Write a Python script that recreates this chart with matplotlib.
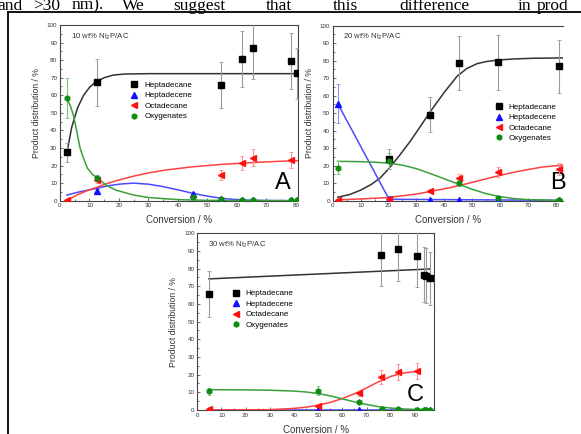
import numpy as np
import matplotlib.pyplot as plt
from matplotlib.lines import Line2D

plt.rcParams['font.family'] = ['Liberation Sans', 'DejaVu Sans']

# ---- Panel A : 10 wt% Ni2P/AC ----
a_hepta_x = [2.3, 12.4, 54.6, 61.8, 65.5, 78.2, 80.2]
a_hepta_y = [27.5, 67.4, 65.8, 80.5, 87.0, 79.5, 72.5]
a_hepta_e = [5.5, 13.5, 13.0, 16.0, 17.5, 16.0, 14.5]
a_ene_x = [12.4, 45.0, 54.6, 61.8, 65.5, 78.2, 80.2]
a_ene_y = [5.5, 4.0, 1.2, 0.4, 0.3, 0.2, 0.2]
a_ene_e = [1.0, 1.2, 0.5, 0.3, 0.2, 0.2, 0.2]
a_octa_x = [2.3, 12.4, 54.6, 61.8, 65.5, 78.2]
a_octa_y = [0.3, 11.5, 14.5, 21.5, 24.5, 23.2]
a_octa_e = [0.5, 1.5, 3.0, 4.0, 5.0, 4.5]
a_oxy_x = [2.3, 12.4, 45.0, 54.6, 61.8, 65.5, 78.2, 80.2]
a_oxy_y = [58.5, 13.0, 2.3, 1.2, 0.3, 0.3, 0.2, 0.2]
a_oxy_e = [11.5, 1.5, 1.5, 0.8, 0.3, 0.3, 0.2, 0.2]
# fitted curves
a_fit_hepta_x = [2.3, 4, 6, 8, 10, 12, 15, 18, 22, 30, 80.7]
a_fit_hepta_y = [27, 42, 53, 60, 64.5, 67.5, 70, 71.5, 72.1, 72.3, 72.3]
a_fit_ene_x = [2.3, 6, 10, 12.4, 16, 20, 25, 30, 35, 40, 45, 50, 55, 60, 65, 70, 80.7]
a_fit_ene_y = [3.2, 4.8, 6.2, 7, 8.4, 9.4, 10, 9.4, 8.0, 6.2, 4.2, 2.6, 1.3, 0.6, 0.25, 0.1, 0]
a_fit_octa_x = [2.3, 6, 10, 12.4, 16, 20, 25, 30, 36, 45, 55, 62, 70, 77, 80.7]
a_fit_octa_y = [0, 3.5, 6.2, 7.6, 9.8, 11.8, 14, 15.8, 17.5, 19.3, 20.7, 21.4, 22.1, 22.6, 22.8]
a_fit_oxy_x = [2.3, 3.5, 4.5, 5.5, 6.8, 8, 9.3, 11, 12.4, 14, 16, 19, 25, 30, 40, 50, 80.7]
a_fit_oxy_y = [58.5, 54, 49, 41, 30, 24, 18.5, 15, 13.3, 11, 8.5, 6, 3.2, 1.8, 0.6, 0.2, 0]

# ---- Panel B : 20 wt% Ni2P/AC ----
b_hepta_x = [20.2, 35.0, 45.1, 59.3, 81.0]
b_hepta_y = [23.8, 49.1, 78.5, 79.0, 76.8]
b_hepta_e = [5.5, 10.0, 15.5, 15.8, 15.2]
b_ene_x = [1.8, 20.2, 35.0, 45.1, 59.3, 81.0]
b_ene_y = [55.5, 1.0, 0.3, 0.3, 0.2, 0.2]
b_ene_e = [11.0, 0.5, 0.2, 0.2, 0.2, 0.2]
b_octa_x = [1.8, 20.2, 35.0, 45.1, 59.3, 81.0]
b_octa_y = [0.5, 1.2, 5.8, 13.0, 16.5, 18.2]
b_octa_e = [0.3, 0.5, 1.0, 2.5, 3.0, 3.5]
b_oxy_x = [1.8, 20.2, 45.1, 59.3, 81.0]
b_oxy_y = [18.8, 22.5, 10.2, 1.5, 0.4]
b_oxy_e = [3.8, 4.5, 2.0, 0.5, 0.3]
b_fit_hepta_x = [1.8, 6, 10, 14, 17, 20.2, 24, 27.8, 31, 35, 40, 44.5, 48, 51.7, 55, 59.3, 65, 72, 83]
b_fit_hepta_y = [2, 3.5, 6, 9.5, 13, 18.5, 26, 34, 41.5, 51, 62, 71, 75.5, 78.3, 79.5, 80.4, 81, 81.4, 81.6]
b_fit_ene_x = [1.8, 20.2, 83]
b_fit_ene_y = [55.5, 0.8, 0.2]
b_fit_octa_x = [1.8, 10, 20, 30, 35, 40, 45, 50, 55, 60, 65, 70, 75, 83]
b_fit_octa_y = [0.5, 1, 1.8, 3.8, 5.3, 6.8, 8.5, 10.5, 12.5, 14.5, 16.3, 17.8, 19.2, 20.5]
b_fit_oxy_x = [1.8, 10, 15, 20, 25, 30, 35, 40, 45, 50, 55, 60, 65, 70, 83]
b_fit_oxy_y = [22.5, 22.3, 22, 21.5, 20.3, 18.3, 15.5, 12.5, 9.5, 6.5, 4, 2.3, 1.2, 0.6, 0.1]

# ---- Panel C : 30 wt% Ni2P/AC ----
c_hepta_x = [4.8, 75.8, 83.1, 91.0, 93.8, 94.4, 96.2]
c_hepta_y = [65.5, 87.5, 91.0, 87.0, 76.5, 76.0, 74.5]
c_hepta_e = [13.0, 17.5, 18.0, 17.5, 15.5, 15.5, 15.0]
c_ene_x = [4.8, 49.8, 66.8, 76.2, 83.1, 91.0, 93.8, 94.4, 96.2]
c_ene_y = [0.2, 0.2, 0.2, 0.2, 0.2, 0.2, 0.2, 0.2, 0.2]
c_octa_x = [4.8, 49.8, 66.8, 75.8, 83.1, 91.0]
c_octa_y = [0.3, 2.5, 9.5, 18.5, 21.5, 22.0]
c_octa_e = [0.3, 0.8, 1.5, 4.0, 4.3, 4.5]
c_oxy_x = [4.8, 49.8, 66.8, 76.2, 83.1, 91.0, 93.8, 94.4, 96.2]
c_oxy_y = [10.5, 11.0, 4.3, 0.5, 0.3, 0.2, 0.2, 0.2, 0.2]
c_oxy_e = [2.0, 2.5, 1.0, 0.3, 0.2, 0.2, 0.2, 0.2, 0.2]
c_fit_hepta_x = [4.8, 96.2]
c_fit_hepta_y = [74.2, 79.8]
c_fit_ene_x = [4.8, 96.2]
c_fit_ene_y = [0.1, 0.1]
c_fit_octa_x = [4.8, 30, 40, 45, 50, 55, 60, 65, 70, 75, 80, 85, 91]
c_fit_octa_y = [0, 0.2, 0.9, 1.6, 2.7, 4.3, 6.5, 9.2, 12.5, 16, 19, 20.9, 21.9]
c_fit_oxy_x = [4.8, 20, 30, 40, 45, 50, 55, 60, 65, 70, 75, 80, 85, 90, 96.2]
c_fit_oxy_y = [11.5, 11.4, 11.2, 10.7, 10.2, 9.3, 8, 6.3, 4.6, 3.1, 1.9, 1.1, 0.6, 0.35, 0.2]

names = ['Heptadecane', 'Heptadecene', 'Octadecane', 'Oxygenates']
markers = ['s', '^', '<', 'h']
mcolors = ['#000000', '#1010ff', '#ff1010', '#108a10']
lcolors = ['#333333', '#4a4aff', '#ff4040', '#3aa03a']
ecolors = ['#9a9a9a', '#8c8cff', '#ff8c8c', '#7cc47c']
MS = 3.7

fig = plt.figure(figsize=(5.81, 4.34), dpi=100)

# piece of the page around the figure
words = ['and', '>30', 'nm).', 'We', 'suggest', 'that', 'this', 'difference', 'in', 'prod']
word_x = [-3, 33, 72, 122, 173, 266, 333, 399, 518, 537]
for w, x in zip(words, word_x):
    fig.text(x / 581, 1 - 9.5 / 434, w, family='Liberation Serif', fontsize=12.5,
             va='baseline', ha='left')
fig.add_artist(Line2D([8 / 581, 8 / 581], [0, 1 - 12 / 434], transform=fig.transFigure,
                      color='k', lw=1.3))
fig.add_artist(Line2D([8 / 581, 1], [1 - 12 / 434, 1 - 12 / 434], transform=fig.transFigure,
                      color='k', lw=1.3))


def panel(rect, xmax, xstep, series, fits, title, letter, letter_pos, leg_pos, right=True):
    ax = fig.add_axes(rect)
    for i, (x, y, e) in enumerate(series):
        if e is None:
            ax.plot(x, y, ls='none', marker=markers[i], ms=MS, color=mcolors[i], zorder=4)
        else:
            ax.errorbar(x, y, yerr=e, fmt=markers[i], ms=MS, color=mcolors[i],
                        ecolor=ecolors[i], elinewidth=0.8, capsize=1.5, capthick=0.6, zorder=4)
    for i, (fx, fy) in enumerate(fits):
        ax.plot(fx, fy, color=lcolors[i], lw=1.1, zorder=3)
    ax.set_xlim(0, xmax)
    ax.set_ylim(0, 100)
    ax.set_xticks(np.arange(0, xmax, xstep))
    ax.set_xticks(np.arange(0, xmax, xstep / 2), minor=True)
    ax.set_yticks(np.arange(0, 101, 10))
    ax.set_yticks(np.arange(0, 101, 5), minor=True)
    ax.tick_params(which='both', direction='in', labelsize=4.5, width=0.6, pad=2,
                   top=False, right=False, colors='#555555', labelcolor='#333333')
    ax.tick_params(which='major', length=2.5)
    ax.tick_params(which='minor', length=1.3)
    for s in ax.spines.values():
        s.set_color('#444444')
        s.set_linewidth(0.8)
    if not right:
        ax.spines['right'].set_visible(False)
    ax.set_xlabel('Conversion / %', fontsize=7, color='#333333', labelpad=5)
    ax.set_ylabel('Product distribution / %', fontsize=6.3, color='#333333', labelpad=4)
    ax.text(0.045, 0.965, title, transform=ax.transAxes, fontsize=5.6, va='top',
            color='#333333')
    ax.text(letter_pos[0], letter_pos[1], letter, transform=ax.transAxes, fontsize=17,
            ha='right', va='bottom')
    handles = [Line2D([], [], ls='none', marker=markers[i], ms=MS, color=mcolors[i])
               for i in range(4)]
    ax.legend(handles, names, loc='upper left', bbox_to_anchor=leg_pos, frameon=False,
              fontsize=5.8, handlelength=1.0, handletextpad=0.7, labelspacing=0.35,
              borderpad=0, borderaxespad=0)
    return ax


panel([60 / 581, 1 - 200.7 / 434, 238 / 581, 175.7 / 434], 80.7, 10,
      [(a_hepta_x, a_hepta_y, a_hepta_e), (a_ene_x, a_ene_y, a_ene_e),
       (a_octa_x, a_octa_y, a_octa_e), (a_oxy_x, a_oxy_y, a_oxy_e)],
      [(a_fit_hepta_x, a_fit_hepta_y), (a_fit_ene_x, a_fit_ene_y),
       (a_fit_octa_x, a_fit_octa_y), (a_fit_oxy_x, a_fit_oxy_y)],
      '10 wt% Ni$_2$P/AC', 'A', (0.97, 0.04), (0.296, 0.679))

panel([332.7 / 581, 1 - 200.7 / 434, 230.3 / 581, 175 / 434], 82.5, 10,
      [(b_hepta_x, b_hepta_y, b_hepta_e), (b_ene_x, b_ene_y, b_ene_e),
       (b_octa_x, b_octa_y, b_octa_e), (b_oxy_x, b_oxy_y, b_oxy_e)],
      [(b_fit_hepta_x, b_fit_hepta_y), (b_fit_ene_x, b_fit_ene_y),
       (b_fit_octa_x, b_fit_octa_y), (b_fit_oxy_x, b_fit_oxy_y)],
      '20 wt% Ni$_2$P/AC', 'B', (1.01, 0.04), (0.704, 0.557), right=False)

panel([197.3 / 581, 1 - 410 / 434, 236.7 / 581, 176.7 / 434], 97.9, 10,
      [(c_hepta_x, c_hepta_y, c_hepta_e), (c_ene_x, c_ene_y, None),
       (c_octa_x, c_octa_y, c_octa_e), (c_oxy_x, c_oxy_y, c_oxy_e)],
      [(c_fit_hepta_x, c_fit_hepta_y), (c_fit_ene_x, c_fit_ene_y),
       (c_fit_octa_x, c_fit_octa_y), (c_fit_oxy_x, c_fit_oxy_y)],
      '30 wt% Ni$_2$P/AC', 'C', (0.955, 0.02), (0.147, 0.680))

fig.savefig('out.png', dpi=100)
